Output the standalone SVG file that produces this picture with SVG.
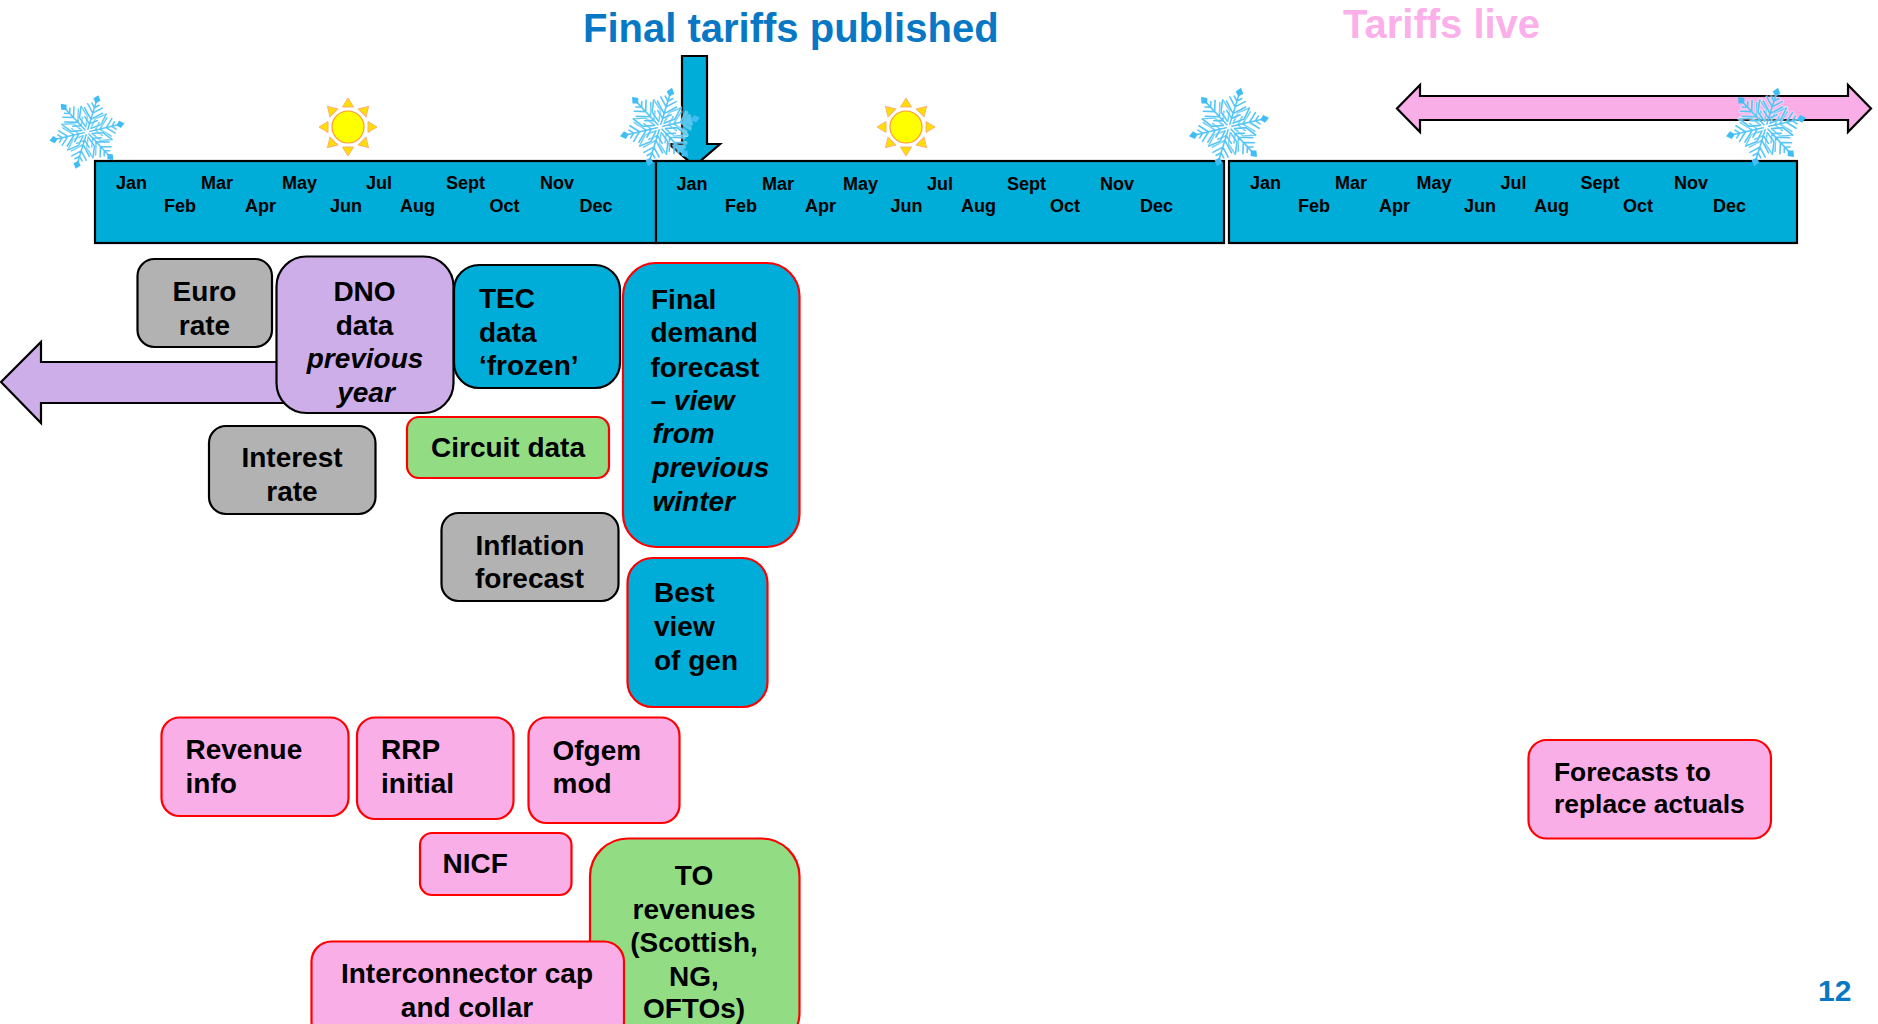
<svg xmlns="http://www.w3.org/2000/svg" width="1878" height="1024" viewBox="0 0 1878 1024">
<style>
text{font-family:"Liberation Sans",Arial,sans-serif;font-weight:700;fill:#000}
.m{font-size:18px}
.t{font-size:28px}
.f{font-size:26.400px}
.c{text-anchor:middle}
.i{font-style:italic}
.title{font-size:40px}
.bar{fill:#00acd8;stroke:#000;stroke-width:2.2}
.bk{stroke:#000;stroke-width:2.2}
.rd{stroke:#f00;stroke-width:2.2}
.blue{fill:#00acd8}.pink{fill:#f9aee8}.lil{fill:#cdaee8}.gry{fill:#b2b2b2}.grn{fill:#92dc84}
.arw{stroke:#000;stroke-width:2.2;stroke-linejoin:miter}
.fl{fill:none;stroke:#55c6f6;stroke-width:1.6;stroke-linecap:round}
.ha{fill:none;stroke:#fff;stroke-width:4;stroke-linecap:round;opacity:.35}
.fd{fill:#40bdf4}
</style>
<defs>
<path id="armp" d="M3 0H33M9 0L15 -7M9 0L15 7M14 0L24 -10M14 0L24 10M21 0L29 -8M21 0L29 8M27 0L31 -4M27 0L31 4M5 -3L12 -12L24 -14M5 3L12 12L24 14"/>
<g id="arm">
<use href="#armp" class="ha"/>
<use href="#armp" class="fl"/>
<path class="fd" d="M32 0L36 -4L41 0L36 4Z"/>
</g>
<g id="flake">
<use href="#arm" transform="rotate(-13)"/>
<use href="#arm" transform="rotate(47)"/>
<use href="#arm" transform="rotate(107)"/>
<use href="#arm" transform="rotate(167)"/>
<use href="#arm" transform="rotate(227)"/>
<use href="#arm" transform="rotate(287)"/>
</g>
<path id="ray" d="M-5.500 -20L0 -29L5.500 -20Z" fill="#ffdf00" stroke="#ffb070" stroke-width="1"/>
<g id="sun">
<use href="#ray"/>
<use href="#ray" transform="rotate(45)"/>
<use href="#ray" transform="rotate(90)"/>
<use href="#ray" transform="rotate(135)"/>
<use href="#ray" transform="rotate(180)"/>
<use href="#ray" transform="rotate(225)"/>
<use href="#ray" transform="rotate(270)"/>
<use href="#ray" transform="rotate(315)"/>
<circle r="16" fill="#ff0" stroke="#ff9a33" stroke-width="1.200"/>
</g>
</defs>
<rect width="1878" height="1024" fill="#fff"/>

<g id="connectors">
<path id="arrow-published" class="arw blue" d="M682 56H707V144H720L694.500 166L669 144H682Z"/>
<path id="arrow-live" class="arw pink" d="M1397 108.500L1420 85V96H1848V85L1871 108.500L1848 132V120H1420V132Z"/>
<path id="arrow-dno" class="arw lil" d="M1 382L41 342V362H300V403H41V423Z"/>
</g>

<text id="title-final" class="title" x="583" y="42" style="fill:#0878c4">Final tariffs published</text>
<text id="title-live" class="title" x="1343" y="37.500" style="fill:#fbb0ea">Tariffs live</text>

<g id="bar-1">
<rect class="bar" x="95" y="161" width="561" height="82"/>
<text class="m" y="189"><tspan x="116">Jan</tspan><tspan x="201">Mar</tspan><tspan x="282">May</tspan><tspan x="366">Jul</tspan><tspan x="446">Sept</tspan><tspan x="540">Nov</tspan></text>
<text class="m" y="212"><tspan x="164">Feb</tspan><tspan x="245">Apr</tspan><tspan x="330">Jun</tspan><tspan x="400">Aug</tspan><tspan x="489.500">Oct</tspan><tspan x="579.500">Dec</tspan></text>
</g>
<g id="bar-2">
<rect class="bar" x="656" y="161" width="568" height="82"/>
<text class="m" y="190"><tspan x="676.500">Jan</tspan><tspan x="762">Mar</tspan><tspan x="843">May</tspan><tspan x="927">Jul</tspan><tspan x="1007">Sept</tspan><tspan x="1100">Nov</tspan></text>
<text class="m" y="212"><tspan x="725">Feb</tspan><tspan x="805">Apr</tspan><tspan x="890.500">Jun</tspan><tspan x="961">Aug</tspan><tspan x="1050">Oct</tspan><tspan x="1140">Dec</tspan></text>
</g>
<g id="bar-3">
<rect class="bar" x="1229" y="161" width="568" height="82"/>
<text class="m" y="189"><tspan x="1250">Jan</tspan><tspan x="1335">Mar</tspan><tspan x="1416.500">May</tspan><tspan x="1500.500">Jul</tspan><tspan x="1580.500">Sept</tspan><tspan x="1674">Nov</tspan></text>
<text class="m" y="212"><tspan x="1298">Feb</tspan><tspan x="1379">Apr</tspan><tspan x="1464">Jun</tspan><tspan x="1534">Aug</tspan><tspan x="1623">Oct</tspan><tspan x="1713">Dec</tspan></text>
</g>

<use id="snow-1" href="#flake" transform="translate(87 132) scale(.94)"/>
<use id="snow-2" href="#flake" transform="translate(660 127)"/>
<use id="snow-3" href="#flake" transform="translate(1229 127)"/>
<use id="snow-4" href="#flake" transform="translate(1766 127)"/>
<use id="sun-1" href="#sun" transform="translate(348 127)"/>
<use id="sun-2" href="#sun" transform="translate(906 127)"/>

<g id="euro-rate"><rect class="gry bk" x="137.500" y="259" width="134.500" height="88" rx="17"/>
<text class="t c" x="204.500" y="301">Euro</text><text class="t c" x="204.500" y="335">rate</text></g>
<g id="dno-data"><rect class="lil bk" x="276.500" y="256.500" width="177" height="156.500" rx="30"/>
<text class="t c" x="364.500" y="301">DNO</text><text class="t c" x="364.500" y="335">data</text><text class="t c i" x="365" y="368">previous</text><text class="t c i" x="366" y="402">year</text></g>
<g id="tec-data"><rect class="blue bk" x="454" y="265" width="166" height="123" rx="25"/>
<text class="t" x="479" y="308">TEC</text><text class="t" x="479" y="342">data</text><text class="t" x="479" y="375">‘frozen’</text></g>
<g id="final-demand"><rect class="blue rd" x="623" y="263" width="176.500" height="284" rx="33"/>
<text class="t" x="651" y="309">Final</text><text class="t" x="650.500" y="342">demand</text><text class="t" x="650.500" y="376.500">forecast</text><text class="t" x="650.500" y="410">– <tspan class="i">view</tspan></text><text class="t i" x="652.500" y="443">from</text><text class="t i" x="652.500" y="477">previous</text><text class="t i" x="652.500" y="511">winter</text></g>
<g id="circuit-data"><rect class="grn rd" x="407" y="417" width="202" height="61" rx="12"/>
<text class="t c" x="508" y="457">Circuit data</text></g>
<g id="interest-rate"><rect class="gry bk" x="209" y="426" width="166.500" height="88" rx="17"/>
<text class="t c" x="292" y="467">Interest</text><text class="t c" x="292" y="501">rate</text></g>
<g id="inflation-forecast"><rect class="gry bk" x="441.500" y="513" width="177" height="88" rx="17"/>
<text class="t c" x="530" y="555">Inflation</text><text class="t c" x="529.500" y="588">forecast</text></g>
<g id="best-view"><rect class="blue rd" x="627.500" y="558" width="140" height="149" rx="25"/>
<text class="t" x="654" y="602">Best</text><text class="t" x="654" y="636">view</text><text class="t" x="654" y="669.500">of gen</text></g>
<g id="revenue-info"><rect class="pink rd" x="161.500" y="717.500" width="187" height="98.500" rx="18"/>
<text class="t" x="185.500" y="759">Revenue</text><text class="t" x="185.500" y="793">info</text></g>
<g id="rrp-initial"><rect class="pink rd" x="357" y="717.500" width="156.500" height="101.500" rx="18"/>
<text class="t" x="381" y="759">RRP</text><text class="t" x="381" y="793">initial</text></g>
<g id="ofgem-mod"><rect class="pink rd" x="528.500" y="717.500" width="151" height="105.500" rx="18"/>
<text class="t" x="552.500" y="760">Ofgem</text><text class="t" x="552.500" y="793">mod</text></g>
<g id="nicf"><rect class="pink rd" x="420" y="833" width="151.500" height="62" rx="12"/>
<text class="t" x="442.500" y="873">NICF</text></g>
<g id="to-revenues"><rect class="grn rd" x="590" y="838.500" width="209.500" height="212" rx="38"/>
<text class="t c" x="694" y="885">TO</text><text class="t c" x="694" y="919">revenues</text><text class="t c" x="694" y="952">(Scottish,</text><text class="t c" x="694" y="986">NG,</text><text class="t c" x="694" y="1018">OFTOs)</text></g>
<g id="interconnector"><rect class="pink rd" x="311.500" y="941.500" width="312.500" height="100" rx="20"/>
<text class="t c" x="467" y="983">Interconnector cap</text><text class="t c" x="467" y="1017">and collar</text></g>
<g id="forecasts-actuals"><rect class="pink rd" x="1528.500" y="740" width="242.500" height="98.500" rx="18"/>
<text class="f" x="1554" y="781">Forecasts to</text><text class="f" x="1554" y="813">replace actuals</text></g>
<text id="page-number" x="1818" y="1001" style="font-size:30px;fill:#0878c4">12</text>
</svg>
